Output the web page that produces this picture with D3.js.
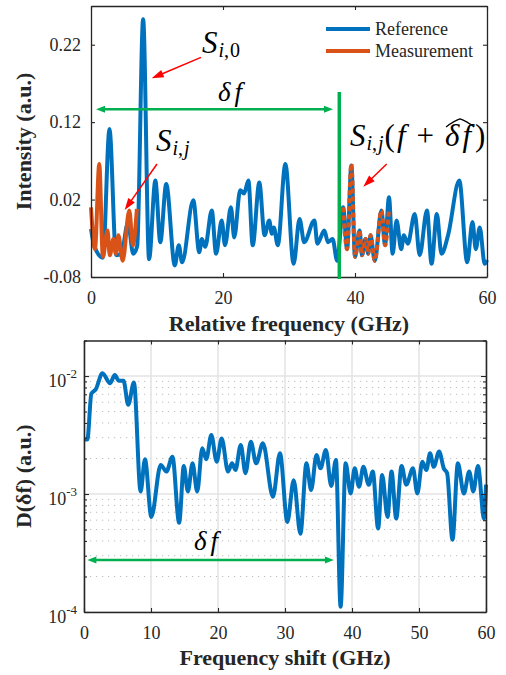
<!DOCTYPE html>
<html>
<head>
<meta charset="utf-8">
<script src="https://cdn.jsdelivr.net/npm/d3@7"></script>
</head>
<body style="margin:0">
<div id="vis"></div>
<script>
// ---- data ----
// top panel: reference spectrum (blue)
const REF_FREQ = [
  0, 0.5, 1.8, 2.8, 3.8, 4.6, 5.6, 6.4, 7.0, 7.9,
  8.8, 9.75, 10.5, 11.4, 12.7, 13.3, 13.8, 15.5, 16.4, 16.8,
  17.3, 18.3, 18.95, 19.8, 20.3, 21.2, 21.7, 22.6, 23.2, 23.85,
  24.5, 25.5, 26.3, 27.0, 27.4, 27.7, 28.3, 29.45, 30.7, 31.6,
  32.3, 33.85, 34.3, 35.35, 35.9, 36.6, 37.3, 38.2, 38.8, 39.45,
  40.0, 40.7, 41.05, 41.6, 42.0, 42.35, 43.0, 44.0, 44.55, 45.15,
  45.7, 46.3, 47.0, 47.4, 48.0, 49.05, 49.8, 50.9, 51.6, 52.4,
  53.1, 54.1, 55.8, 57.0, 57.8, 58.3, 58.9, 59.65, 60];
const REF_INT = [
  -0.018, -0.040, -0.055, 0.111, -0.052, -0.050, -0.010, -0.050, -0.040, 0.253,
  -0.057, 0.0445, -0.035, 0.040, -0.065, -0.039, -0.061, 0.019, -0.048, -0.031,
  -0.041, 0.006, -0.050, -0.007, -0.039, 0.010, -0.029, 0.032, 0.028, 0.0445,
  -0.039, 0.042, -0.026, -0.007, -0.024, -0.016, -0.039, 0.066, -0.063, -0.005,
  -0.035, -0.007, -0.037, -0.020, -0.035, -0.031, -0.059, 0.010, -0.044, 0.064,
  -0.054, -0.020, -0.052, -0.031, -0.050, -0.026, -0.059, 0.006, -0.039, 0.023,
  -0.050, -0.007, -0.044, -0.026, -0.037, 0.0015, -0.052, 0.006, -0.063, 0.0015,
  -0.050, -0.026, 0.0445, -0.061, -0.009, -0.044, -0.016, -0.063, -0.058];

// top panel: measured slice (orange)
const MEAS_FREQ = [0, 0.6, 1.25, 1.8, 2.5, 2.85, 3.4, 3.8, 4.15, 4.8, 5.8, 6.35, 6.95];
const MEAS_INT = [0.010, -0.044, 0.066, -0.054, -0.020, -0.052, -0.031, -0.050, -0.026, -0.059, 0.006, -0.039, 0.008];

// estimated shift (GHz)
const DELTA_F = 38.2;

// bottom panel: D(delta f)
const SHIFT_FREQ = [
  0, 0.5, 1.1, 1.75, 2.75, 3.9, 4.6, 5.2, 5.9, 6.6,
  7.45, 8.45, 9.1, 10.05, 11.45, 12.3, 13.2, 14.2, 14.9, 15.5,
  16.2, 16.9, 17.65, 18.25, 19.0, 19.8, 20.55, 21.5, 22.1, 22.6,
  23.4, 24.1, 24.9, 25.7, 26.7, 28.2, 29.25, 30.35, 31.3, 32.3,
  33.2, 33.9, 34.7, 35.3, 36.1, 36.9, 37.6, 38.3, 39.05, 39.8,
  40.4, 41.05, 41.7, 42.5, 43.1, 43.9, 44.5, 45.3, 45.9, 46.6,
  47.4, 48.1, 49.1, 49.75, 50.5, 51.1, 51.65, 52.2, 53.0, 53.7,
  54.2, 55.0, 55.8, 56.7, 57.5, 58.1, 58.8, 59.7, 60];
const SHIFT_D = [
  0.0029, 0.0029, 0.0071, 0.0077, 0.01055, 0.0087, 0.0102, 0.0091, 0.0091, 0.0057,
  0.0088, 0.00105, 0.00197, 0.00064, 0.00176, 0.00155, 0.00207, 0.00057, 0.00173, 0.00105,
  0.00182, 0.00105, 0.00244, 0.00197, 0.00316, 0.00188, 0.00296, 0.00155, 0.00182, 0.0016,
  0.0026, 0.0015, 0.00277, 0.00182, 0.00269, 0.00095, 0.00221, 0.00058, 0.00131, 0.00046,
  0.00182, 0.00108, 0.00214, 0.00165, 0.00236, 0.00117, 0.00194, 0.000111, 0.00182, 0.00101,
  0.00165, 0.00115, 0.0017, 0.0012, 0.00155, 0.00051, 0.00145, 0.00064, 0.00155, 0.00062,
  0.00173, 0.0012, 0.00165, 0.00101, 0.00188, 0.0016, 0.00221, 0.0017, 0.00229, 0.00165,
  0.0015, 0.00041, 0.00182, 0.00101, 0.00155, 0.00105, 0.00173, 0.00062, 0.0012];

// ticks and labels
const TOP_X_TICKS = [0, 20, 40, 60];
const TOP_Y_TICKS = [-0.08, 0.02, 0.12, 0.22];
const BOT_X_TICKS = [0, 10, 20, 30, 40, 50, 60];
const BOT_Y_TICKS = [1e-4, 1e-3, 1e-2];
const LEGEND_NAMES = ["Reference", "Measurement"];

// ---- layout ----
const FRAME_WIDTH = 506;
const FRAME_HEIGHT = 675;
const TOP = {left: 91, right: 487, top: 6, bottom: 277};
const BOT = {left: 84, right: 486, top: 340.5, bottom: 612};
const SERIF = "'Liberation Serif'";

const BLUE = "#0072BD";
const ORANGE = "#D95319";
const GREEN = "#00B050";
const RED = "#FF0000";
const INK = "#262626";

const FRAME = d3.select("#vis")
                  .append("svg")
                    .attr("width", FRAME_WIDTH)
                    .attr("height", FRAME_HEIGHT);

// scales
const X1 = d3.scaleLinear().domain([0, 60]).range([TOP.left, TOP.right]);
const Y1 = d3.scaleLinear().domain([-0.08, 0.27]).range([TOP.bottom, TOP.top]);
const X2 = d3.scaleLinear().domain([0, 60]).range([BOT.left, BOT.right]);
const Y2 = d3.scaleLog().domain([1e-4, 0.02]).range([BOT.bottom, BOT.top]);

// small helpers
function styleAxis(g) {
  g.attr("font-size", 18);
  g.select(".domain").attr("stroke", INK).attr("stroke-width", 1.3);
  g.selectAll(".tick line").attr("stroke", INK).attr("stroke-width", 1.1);
  g.selectAll(".tick text").attr("fill", INK);
}

function arrow(g, x1, y1, x2, y2, color, width, headLen, headW, both) {
  const a = Math.atan2(y2 - y1, x2 - x1);
  const c = Math.cos(a), s = Math.sin(a);
  const sx = both ? x1 + c * headLen * 0.8 : x1;
  const sy = both ? y1 + s * headLen * 0.8 : y1;
  g.append("line")
    .attr("x1", sx).attr("y1", sy)
    .attr("x2", x2 - c * headLen * 0.8).attr("y2", y2 - s * headLen * 0.8)
    .attr("stroke", color).attr("stroke-width", width);
  const head = (tx, ty, dc, ds) => {
    const bx = tx - dc * headLen, by = ty - ds * headLen;
    return `M${tx},${ty}L${bx - ds * headW / 2},${by + dc * headW / 2}L${bx + ds * headW / 2},${by - dc * headW / 2}Z`;
  };
  g.append("path").attr("d", head(x2, y2, c, s)).attr("fill", color);
  if (both) g.append("path").attr("d", head(x1, y1, -c, -s)).attr("fill", color);
}

// writes pieces of math one after another, returns their x extents
function mathText(g, x, y, parts) {
  let cx = x;
  const spans = [];
  parts.forEach(p => {
    const t = g.append("text")
        .attr("x", cx)
        .attr("y", y + (p.shift || 0))
        .style("font-family", SERIF)
        .attr("font-size", p.size)
        .attr("font-style", p.italic ? "italic" : "normal")
        .attr("fill", "#000")
        .text(p.t);
    const w = t.node().getComputedTextLength();
    spans.push([cx, cx + w]);
    cx += w + (p.gap || 0);
  });
  return spans;
}

const line = (xs, ys) => d3.line()
    .x(d => xs(d[0]))
    .y(d => ys(d[1]))
    .curve(d3.curveMonotoneX);

// =================== top panel ===================
const TOP_G = FRAME.append("g");

TOP_G.append("path")
    .datum(d3.zip(REF_FREQ, REF_INT))
    .attr("d", line(X1, Y1))
    .attr("fill", "none")
    .attr("stroke", BLUE)
    .attr("stroke-width", 4)
    .attr("stroke-linejoin", "round");

TOP_G.append("path")
    .datum(d3.zip(MEAS_FREQ, MEAS_INT))
    .attr("d", line(X1, Y1))
    .attr("fill", "none")
    .attr("stroke", ORANGE)
    .attr("stroke-width", 4)
    .attr("stroke-linejoin", "round");

// measurement moved by the estimated shift
TOP_G.append("path")
    .datum(d3.zip(MEAS_FREQ.map(f => f + DELTA_F), MEAS_INT))
    .attr("d", line(X1, Y1))
    .attr("fill", "none")
    .attr("stroke", ORANGE)
    .attr("stroke-width", 4)
    .attr("stroke-dasharray", "5,3");

// axes (ticks inside, box all round)
TOP_G.append("g")
    .attr("transform", "translate(0," + TOP.bottom + ")")
    .call(d3.axisBottom(X1).tickValues(TOP_X_TICKS).tickSizeInner(-4).tickSizeOuter(0)
            .tickPadding(14).tickFormat(d3.format("d")))
    .call(styleAxis);
TOP_G.append("g")
    .attr("transform", "translate(0," + TOP.top + ")")
    .call(d3.axisTop(X1).tickValues(TOP_X_TICKS).tickSizeInner(-4).tickSizeOuter(0).tickFormat(""))
    .call(styleAxis);
TOP_G.append("g")
    .attr("transform", "translate(" + TOP.left + ",0)")
    .call(d3.axisLeft(Y1).tickValues(TOP_Y_TICKS).tickSizeInner(-4).tickSizeOuter(0)
            .tickPadding(10).tickFormat(d => d.toFixed(2)))
    .call(styleAxis);
TOP_G.append("g")
    .attr("transform", "translate(" + TOP.right + ",0)")
    .call(d3.axisRight(Y1).tickValues(TOP_Y_TICKS).tickSizeInner(-4).tickSizeOuter(0).tickFormat(""))
    .call(styleAxis);

TOP_G.append("text")
    .attr("x", (TOP.left + TOP.right) / 2)
    .attr("y", 331)
    .attr("text-anchor", "middle")
    .attr("font-size", 22)
    .attr("font-weight", "bold")
    .attr("fill", INK)
    .text("Relative frequency (GHz)");
TOP_G.append("text")
    .attr("transform", "translate(31," + (TOP.top + TOP.bottom) / 2 + ") rotate(-90)")
    .attr("text-anchor", "middle")
    .attr("font-size", 22)
    .attr("font-weight", "bold")
    .attr("fill", INK)
    .text("Intensity (a.u.)");

// legend
const LEG = TOP_G.append("g");
[BLUE, ORANGE].forEach((c, i) => {
  const ly = TOP.top + 23 + i * 22;
  LEG.append("line")
      .attr("x1", TOP.right - 161).attr("x2", TOP.right - 117)
      .attr("y1", ly).attr("y2", ly)
      .attr("stroke", c).attr("stroke-width", 4);
  LEG.append("text")
      .attr("x", TOP.right - 112).attr("y", ly + 6)
      .attr("font-size", 18)
      .attr("fill", INK)
      .text(LEGEND_NAMES[i]);
});

// annotations
const NOTE1 = TOP_G.append("g");
arrow(NOTE1, X1(0.76), Y1(0.1366), X1(36.67), Y1(0.1366), GREEN, 2.5, 9, 7, true);
NOTE1.append("line")
    .attr("x1", X1(37.62)).attr("x2", X1(37.62))
    .attr("y1", Y1(0.159)).attr("y2", Y1(-0.0826))
    .attr("stroke", GREEN).attr("stroke-width", 3.5);
mathText(NOTE1, X1(19.24), Y1(0.1467), [
  {t: "\u03B4", size: 27, italic: true, gap: 4},
  {t: "f", size: 27, italic: true}]);

mathText(NOTE1, X1(16.8), Y1(0.2089), [
  {t: "S", size: 31, italic: true, gap: 1},
  {t: "i", size: 20, italic: true, shift: 4},
  {t: ",", size: 20, shift: 4, gap: 1},
  {t: "0", size: 20, shift: 4}]);
arrow(NOTE1, X1(16.67), Y1(0.2037), X1(9.2), Y1(0.1766), RED, 1.5, 12, 8, false);

mathText(NOTE1, X1(9.85), Y1(0.0827), [
  {t: "S", size: 31, italic: true, gap: 1},
  {t: "i", size: 20, italic: true, shift: 4},
  {t: ",", size: 20, shift: 4, gap: 1},
  {t: "j", size: 20, italic: true, shift: 4}]);
arrow(NOTE1, X1(10.0), Y1(0.066), X1(5.1), Y1(0.0065), RED, 1.5, 12, 8, false);

// S_ij(f + delta f hat), the "+" gets a space on both sides
const baseY = Y1(0.0892);
const spans = mathText(NOTE1, X1(39.24), baseY, [
  {t: "S", size: 31, italic: true, gap: 1},
  {t: "i", size: 20, italic: true, shift: 4},
  {t: ",", size: 20, shift: 4, gap: 1},
  {t: "j", size: 20, italic: true, shift: 4, gap: 1},
  {t: "(", size: 31, gap: 2},
  {t: "f", size: 31, italic: true, gap: 11},
  {t: "+", size: 31, gap: 11},
  {t: "\u03B4", size: 31, italic: true, gap: 3},
  {t: "f", size: 31, italic: true, gap: 4},
  {t: ")", size: 31}]);
// the wide hat above delta f
const hx1 = spans[7][0] + 1, hx2 = spans[8][1] + 3, hy = baseY - 24;
NOTE1.append("path")
    .attr("d", `M${hx1},${hy + 5}Q${(hx1 + hx2) / 2 - 6},${hy - 1} ${(hx1 + hx2) / 2},${hy - 3}Q${(hx1 + hx2) / 2 + 6},${hy - 1} ${hx2},${hy + 5}`)
    .attr("fill", "none")
    .attr("stroke", "#000")
    .attr("stroke-width", 1.3);
arrow(NOTE1, X1(44.8), Y1(0.066), X1(41.26), Y1(0.0366), RED, 1.5, 12, 8, false);

// =================== bottom panel ===================
const BOT_G = FRAME.append("g");

const MINOR = Y2.ticks().filter(t => Math.abs(Math.log10(t) - Math.round(Math.log10(t))) > 1e-6);

// grid
BOT_G.append("g").selectAll("line")
    .data(MINOR.filter(t => t < Y2.domain()[1] * 0.99))
    .enter()
    .append("line")
      .attr("x1", BOT.left).attr("x2", BOT.right)
      .attr("y1", d => Y2(d)).attr("y2", d => Y2(d))
      .attr("stroke", "#bdbdbd")
      .attr("stroke-width", 1)
      .attr("stroke-dasharray", "1.2,4.8");
BOT_G.append("g").selectAll("line")
    .data(BOT_Y_TICKS)
    .enter()
    .append("line")
      .attr("x1", BOT.left).attr("x2", BOT.right)
      .attr("y1", d => Y2(d)).attr("y2", d => Y2(d))
      .attr("stroke", "#e3e3e3")
      .attr("stroke-width", 1.5);
BOT_G.append("g").selectAll("line")
    .data(BOT_X_TICKS)
    .enter()
    .append("line")
      .attr("x1", d => X2(d)).attr("x2", d => X2(d))
      .attr("y1", BOT.top).attr("y2", BOT.bottom)
      .attr("stroke", "#e3e3e3")
      .attr("stroke-width", 1.5);

BOT_G.append("path")
    .datum(d3.zip(SHIFT_FREQ, SHIFT_D))
    .attr("d", line(X2, Y2))
    .attr("fill", "none")
    .attr("stroke", BLUE)
    .attr("stroke-width", 4)
    .attr("stroke-linejoin", "round");

// axes
BOT_G.append("g")
    .attr("transform", "translate(0," + BOT.bottom + ")")
    .call(d3.axisBottom(X2).tickValues(BOT_X_TICKS).tickSizeInner(-4).tickSizeOuter(0)
            .tickPadding(14).tickFormat(d3.format("d")))
    .call(styleAxis);
BOT_G.append("g")
    .attr("transform", "translate(0," + BOT.top + ")")
    .call(d3.axisTop(X2).tickValues(BOT_X_TICKS).tickSizeInner(-4).tickSizeOuter(0).tickFormat(""))
    .call(styleAxis);
const LEFT2 = BOT_G.append("g")
    .attr("transform", "translate(" + BOT.left + ",0)")
    .call(d3.axisLeft(Y2).tickValues(BOT_Y_TICKS).tickSizeInner(-5).tickSizeOuter(0).tickFormat(""))
    .call(styleAxis);
BOT_G.append("g")
    .attr("transform", "translate(" + BOT.left + ",0)")
    .call(d3.axisLeft(Y2).tickValues(MINOR).tickSizeInner(-3).tickSizeOuter(0).tickFormat(""))
    .call(styleAxis);
BOT_G.append("g")
    .attr("transform", "translate(" + BOT.right + ",0)")
    .call(d3.axisRight(Y2).tickValues(BOT_Y_TICKS).tickSizeInner(-5).tickSizeOuter(0).tickFormat(""))
    .call(styleAxis);
BOT_G.append("g")
    .attr("transform", "translate(" + BOT.right + ",0)")
    .call(d3.axisRight(Y2).tickValues(MINOR).tickSizeInner(-3).tickSizeOuter(0).tickFormat(""))
    .call(styleAxis);

// 10^n labels
LEFT2.selectAll(".tick").each(function(d) {
  const t = d3.select(this).append("text")
      .attr("x", -7)
      .attr("y", 10.5)
      .attr("text-anchor", "end")
      .attr("fill", INK);
  t.append("tspan").attr("font-size", 18).text("10");
  t.append("tspan").attr("font-size", 13).attr("dy", -9.5).text(String(Math.round(Math.log10(d))));
});

BOT_G.append("text")
    .attr("x", (BOT.left + BOT.right) / 2)
    .attr("y", 665)
    .attr("text-anchor", "middle")
    .attr("font-size", 22)
    .attr("font-weight", "bold")
    .attr("fill", INK)
    .text("Frequency shift (GHz)");
BOT_G.append("text")
    .attr("transform", "translate(31," + (BOT.top + BOT.bottom) / 2 + ") rotate(-90)")
    .attr("text-anchor", "middle")
    .attr("font-size", 22)
    .attr("font-weight", "bold")
    .attr("fill", INK)
    .text("D(\u03B4f) (a.u.)");

const NOTE2 = BOT_G.append("g");
arrow(NOTE2, X2(0.5), Y2(2.76e-4), X2(37.3), Y2(2.76e-4), GREEN, 2.5, 9, 7, true);
mathText(NOTE2, X2(16.4), Y2(3.35e-4), [
  {t: "\u03B4", size: 27, italic: true, gap: 4},
  {t: "f", size: 27, italic: true}]);

// every text gets the serif family on itself
FRAME.selectAll("text").style("font-family", SERIF);
</script>
</body>
</html>
